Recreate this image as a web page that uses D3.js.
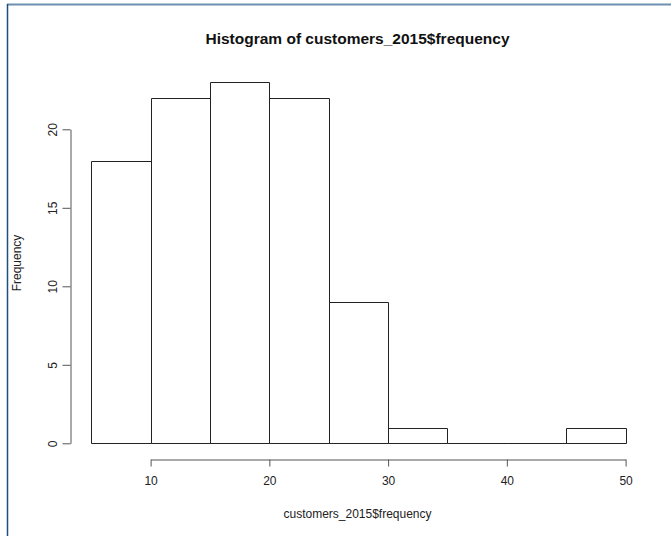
<!DOCTYPE html>
<html><head><meta charset="utf-8">
<script src="https://cdn.jsdelivr.net/npm/d3@7"></script>
<style>body{margin:0;background:#fff}svg{display:block}text{font-family:"Liberation Sans",Arial,sans-serif}</style>
</head><body>
<svg id="c" width="671" height="536"></svg>
<script>
const binStarts = [5,10,15,20,25,30,35,40,45];
const binWidth = 5;
const counts = [18,22,23,22,9,1,0,0,1];
const xTicks = [10,20,30,40,50];
const yTicks = [0,5,10,15,20];
const title = "Histogram of customers_2015$frequency";
const xLabel = "customers_2015$frequency";
const yLabel = "Frequency";

const svg = d3.select("#c");
// frame
svg.append("line").attr("x1",7).attr("x2",671).attr("y1",4.5).attr("y2",4.5).attr("stroke","#6d8fb0").attr("stroke-width",2);
svg.append("line").attr("x1",7.5).attr("x2",7.5).attr("y1",4).attr("y2",536).attr("stroke","#1f4e79").attr("stroke-width",1.5);

const x = d3.scaleLinear().domain([10,50]).range([150.6,625.6]);
const y = d3.scaleLinear().domain([0,20]).range([443.3,129.3]);

svg.append("g").selectAll("path").data(binStarts).join("path")
  .attr("d",(d,i)=>{
    const x0 = Math.round(x(d))+0.5, x1 = Math.round(x(d+binWidth))+0.5;
    const y0 = Math.round(y(0))+0.5, y1 = Math.round(y(counts[i]))+0.5;
    return `M${x0},${y0}L${x0},${y1}L${x1},${y1}L${x1},${y0}Z`;
  })
  .attr("fill","none").attr("stroke","#222").attr("stroke-width",1);

const xa = svg.append("g").attr("transform","translate(0,459.5)")
  .call(d3.axisBottom(x).tickValues(xTicks).tickSize(7).tickPadding(10).tickSizeOuter(0));
xa.select(".domain").attr("stroke","#555");
xa.selectAll(".tick line").attr("stroke","#555");
xa.selectAll("text").attr("font-size",12).attr("fill","#222").attr("font-family","Liberation Sans, Arial, sans-serif");

const ya = svg.append("g").attr("transform","translate(70.5,0)")
  .call(d3.axisLeft(y).tickValues(yTicks).tickSize(8).tickSizeOuter(0).tickFormat(d3.format("d")));
ya.select(".domain").attr("stroke","#555");
ya.selectAll(".tick line").attr("stroke","#555");
ya.selectAll(".tick text").attr("font-size",12).attr("fill","#222").attr("font-family","Liberation Sans, Arial, sans-serif")
  .attr("x",null).attr("dy",null)
  .attr("text-anchor","middle")
  .attr("transform","translate(-18,0) rotate(-90)")
  .attr("dy","0.35em");

svg.append("text").attr("x",357.5).attr("y",43.5).attr("text-anchor","middle")
  .attr("font-size",15.5).attr("font-weight","bold").attr("fill","#111").text(title);
svg.append("text").attr("x",357.5).attr("y",518).attr("text-anchor","middle")
  .attr("font-size",12).attr("fill","#222").text(xLabel);
svg.append("text").attr("transform","translate(21,263) rotate(-90)").attr("text-anchor","middle")
  .attr("font-size",12).attr("fill","#222").text(yLabel);
</script>
</body></html>
